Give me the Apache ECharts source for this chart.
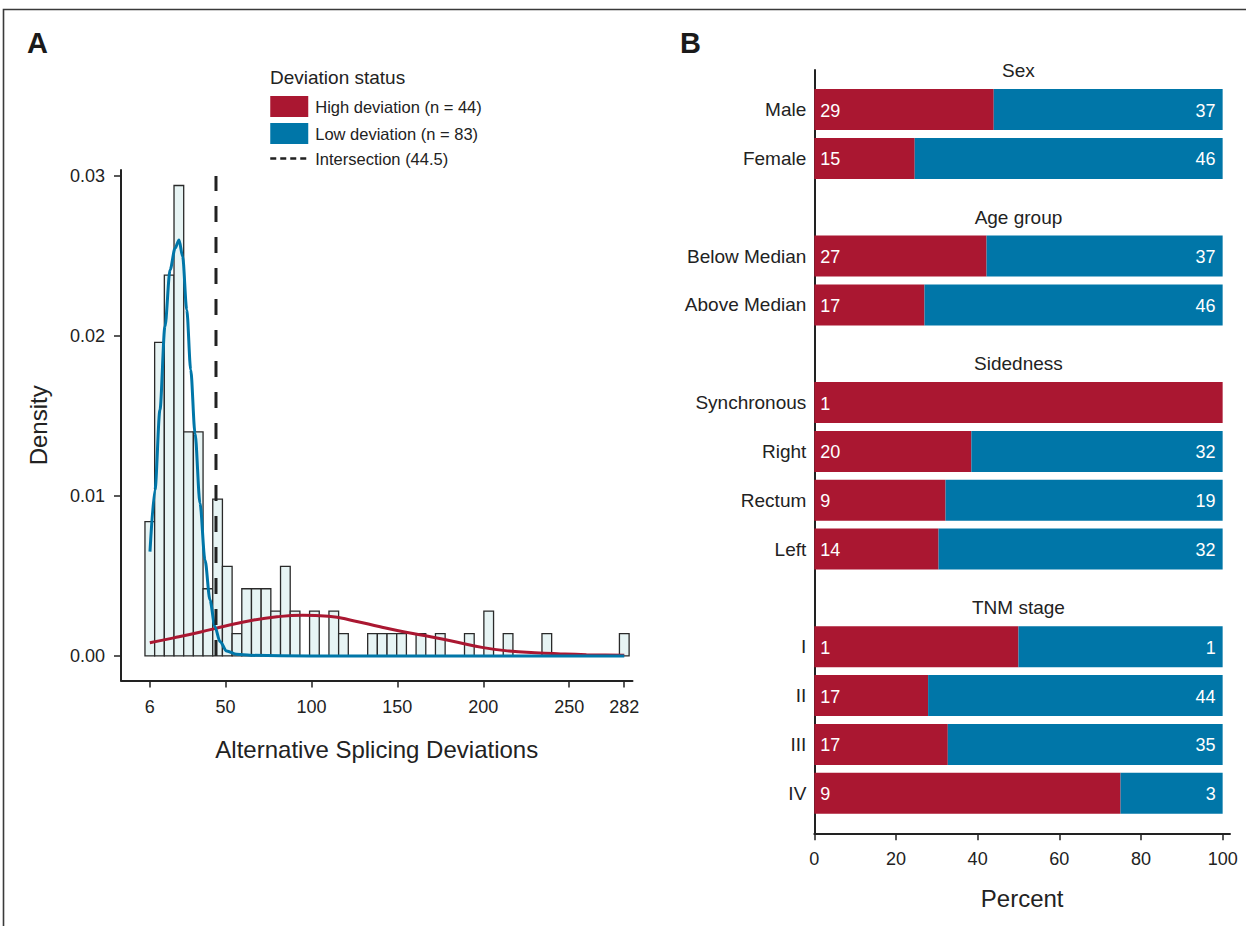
<!DOCTYPE html>
<html>
<head>
<meta charset="utf-8">
<script src="https://cdn.jsdelivr.net/npm/echarts@6/dist/echarts.min.js"></script>
<style>
html,body{margin:0;padding:0;background:#fff;}
#c{width:1246px;height:926px;}
</style>
</head>
<body>
<div id="c"></div>
<script>
// ---------------- Panel A data ----------------
const binStart = 3.18;      // left edge of first bin
const binWidth = 5.633;     // bin width
const histDensity = [
  0.0084,0.0196,0.0238,0.0294,0.0140,0.0140,0.0042,0.0098,0.0056,0.0014,
  0.0042,0.0042,0.0042,0.0028,0.0056,0.0028,0,0.0028,0,0.0028,
  0.0014,0,0,0.0014,0.0014,0.0014,0.0014,0,0.0014,0,
  0.0014,0,0,0.0014,0,0.0028,0,0.0014,0,0,
  0,0.0014,0,0,0,0,0,0,0,0.0014
];
const lowCurve = [
  [6.1,0.00652],[9.0,0.01038],[11.9,0.01538],[14.8,0.02058],[17.8,0.02413],
  [20.7,0.02548],[23.0,0.0260],[25.1,0.02496],[27.5,0.02163],[29.8,0.01788],
  [32.3,0.01392],[35.2,0.00954],[38.1,0.0060],[41.0,0.0035],[43.9,0.00183],
  [46.8,0.0009],[50.7,0.00031],[56.5,0.0001],[64.3,0.00004],[100,0],[200,0],[282,0]
];
const highCurve = [
  [6,0.00083],[20,0.00113],[35,0.00148],[50,0.00187],[65,0.00222],[80,0.00245],
  [95,0.00254],[110,0.00248],[125,0.00219],[140,0.00182],[155,0.00148],[170,0.00118],
  [185,0.00086],[200,0.00052],[215,0.00031],[230,0.00020],[245,0.00013],[260,0.00008],
  [282,0.00004]
];
const intersection = 44.5;
const xTickValues = [6,50,100,150,200,250,282];
const yTickValues = [0,0.01,0.02,0.03];
const highName = 'High deviation (n = 44)';
const lowName = 'Low deviation (n = 83)';
const interName = 'Intersection (44.5)';

// ---------------- Panel B data ----------------
const groupNames = ['Sex','Age group','Sidedness','TNM stage'];
const groupSizes = [2,2,4,4];
const rowNames = ['Male','Female','Below Median','Above Median','Synchronous','Right','Rectum','Left','I','II','III','IV'];
const highCounts = [29,15,27,17,1,20,9,14,1,17,17,9];
const lowCounts  = [37,46,37,46,0,32,19,32,1,44,35,3];
const pctTicks = [0,20,40,60,80,100];

// ---------------- build ----------------
const RED = '#AA1731', BLUE = '#0076A8', INK = '#222222';
const FONT = "'Liberation Sans', Arial, Helvetica, sans-serif";

const histData = histDensity.map((d,i)=>[binStart+i*binWidth, binStart+(i+1)*binWidth, d]).filter(r=>r[2]>0);

// slot layout: each group header sits in the slot above its rows
const headerSlots = [], rowSlots = [];
let s = -1;
groupSizes.forEach((n)=>{
  headerSlots.push(s); s++;
  for(let k=0;k<n;k++){ rowSlots.push(s); s++; }
});
const slotName = {};
rowSlots.forEach((sl,i)=>{ slotName[sl] = rowNames[i]; });
const highBars = rowNames.map((n,i)=>{ const t=highCounts[i]+lowCounts[i]; return [rowSlots[i], 0, 100*highCounts[i]/t, highCounts[i]]; });
const lowBars = rowNames.map((n,i)=>{ const t=highCounts[i]+lowCounts[i]; return [rowSlots[i], 100*highCounts[i]/t, 100, lowCounts[i]]; });
const headerData = groupNames.map((g,i)=>[50, headerSlots[i], g]);

function barRenderer(color, side){
  return function(params, api){
    const slot = api.value(0), x0 = api.value(1), x1 = api.value(2), cnt = api.value(3);
    const p0 = api.coord([x0, slot]), p1 = api.coord([x1, slot]);
    const h = Math.abs(api.size([0,1])[1]) * 0.84;
    const children = [{type:'rect', shape:{x:p0[0], y:p0[1]-h/2, width:p1[0]-p0[0], height:h}, style:{fill:color}}];
    if (cnt > 0) {
      children.push({type:'text', style:{
        text: String(cnt), x: side==='left' ? p0[0]+6 : p1[0]-7, y: p0[1]+1,
        align: side==='left' ? 'left' : 'right', verticalAlign:'middle',
        fill:'#ffffff', fontSize:18, fontFamily:FONT
      }});
    }
    return {type:'group', children};
  };
}

const axisLineStyle = {show:true, onZero:false, lineStyle:{color:INK, width:2}};

const chart = echarts.init(document.getElementById('c'), null, {renderer:'svg'});
chart.setOption({
  animation:false,
  textStyle:{fontFamily:FONT, color:INK},
  title:[
    {text:'A', left:27, top:28, padding:0, textStyle:{fontSize:29, fontWeight:'bold', color:'#1a1a1a', fontFamily:FONT}},
    {text:'B', left:680, top:28, padding:0, textStyle:{fontSize:29, fontWeight:'bold', color:'#1a1a1a', fontFamily:FONT}},
    {text:'Deviation status', left:270, top:68, padding:0, textStyle:{fontSize:19, fontWeight:'normal', color:INK, fontFamily:FONT}}
  ],
  legend:{
    orient:'vertical', left:269, top:96, padding:0, itemWidth:38, itemHeight:21, itemGap:6,
    textStyle:{fontSize:16.5, color:INK, fontFamily:FONT, padding:[0,0,0,2]},
    selectedMode:false,
    data:[
      {name:highName, icon:'rect', itemStyle:{color:RED}},
      {name:lowName, icon:'rect', itemStyle:{color:BLUE}},
      {name:interName, itemStyle:{color:'rgba(0,0,0,0)', borderWidth:0, opacity:0}, lineStyle:{type:[6,4], width:2.5, color:INK}}
    ]
  },
  graphic:[
    {type:'polyline', shape:{points:[[3.5,926],[3.5,9.5],[1246,9.5]]}, style:{stroke:'#3a3a3a', lineWidth:1.6, fill:null}}
  ],
  grid:[
    {left:121, top:170, width:511.5, height:510.6},
    {left:814.3, top:70, width:415.7, height:763.3}
  ],
  xAxis:[
    {gridIndex:0, type:'value', min:-10.76, max:286.8,
     name:'Alternative Splicing Deviations', nameLocation:'middle', nameGap:57,
     nameTextStyle:{fontSize:24, color:INK},
     axisLine:axisLineStyle,
     axisTick:{show:true, length:7, lineStyle:{color:INK, width:1.5}, customValues:xTickValues},
     axisLabel:{fontSize:18, color:INK, margin:17, customValues:xTickValues},
     splitLine:{show:false}},
    {gridIndex:1, type:'value', min:0, max:101.8,
     name:'Percent', nameLocation:'middle', nameGap:53,
     nameTextStyle:{fontSize:24, color:INK},
     axisLine:axisLineStyle,
     axisTick:{show:true, length:7, lineStyle:{color:INK, width:1.5}, customValues:pctTicks},
     axisLabel:{fontSize:18, color:INK, margin:17, customValues:pctTicks},
     splitLine:{show:false}}
  ],
  yAxis:[
    {gridIndex:0, type:'value', min:-0.00154, max:0.03037,
     name:'Density', nameLocation:'middle', nameGap:71,
     nameTextStyle:{fontSize:24, color:INK},
     axisLine:axisLineStyle,
     axisTick:{show:true, length:7, lineStyle:{color:INK, width:1.5}, customValues:yTickValues},
     axisLabel:{fontSize:18, color:INK, margin:16, customValues:yTickValues, formatter:v=>v.toFixed(2)},
     splitLine:{show:false}},
    {gridIndex:1, type:'value', inverse:true, min:-0.81, max:14.82,
     axisLine:axisLineStyle,
     axisTick:{show:false},
     axisLabel:{fontSize:19, color:INK, margin:8, customValues:rowSlots, formatter:v=>slotName[Math.round(v)]||''},
     splitLine:{show:false}}
  ],
  series:[
    {type:'custom', name:'hist', xAxisIndex:0, yAxisIndex:0, data:histData, encode:{x:[0,1], y:2},
     renderItem:function(params, api){
       const a = api.coord([api.value(0), api.value(2)]);
       const b = api.coord([api.value(1), 0]);
       return {type:'rect', shape:{x:a[0], y:a[1], width:b[0]-a[0], height:b[1]-a[1]},
               style:{fill:'#E7F4F4', stroke:'#2a2a2a', lineWidth:1.3}};
     }, z:1},
    {type:'line', name:highName, xAxisIndex:0, yAxisIndex:0, data:highCurve, smooth:0.5,
     symbol:'none', lineStyle:{color:RED, width:3}, itemStyle:{color:RED}, z:3},
    {type:'line', name:lowName, xAxisIndex:0, yAxisIndex:0, data:lowCurve, smooth:0.3, smoothMonotone:'x',
     symbol:'none', lineStyle:{color:BLUE, width:3}, itemStyle:{color:BLUE}, z:4},
    {type:'line', name:interName, xAxisIndex:0, yAxisIndex:0, data:[[intersection,0],[intersection,0.03]],
     symbol:'none', lineStyle:{color:INK, width:3, type:[16,15]}, itemStyle:{color:INK}, z:5},
    {type:'custom', name:'highBars', xAxisIndex:1, yAxisIndex:1, data:highBars, encode:{x:[1,2], y:0},
     renderItem:barRenderer(RED,'left')},
    {type:'custom', name:'lowBars', xAxisIndex:1, yAxisIndex:1, data:lowBars, encode:{x:[1,2], y:0},
     renderItem:barRenderer(BLUE,'right')},
    {type:'custom', name:'headers', xAxisIndex:1, yAxisIndex:1, data:headerData, encode:{x:0, y:1},
     renderItem:function(params, api){
       const p = api.coord([api.value(0), api.value(1)]);
       return {type:'text', style:{text:headerData[params.dataIndex][2], x:p[0], y:p[1]+10,
         align:'center', verticalAlign:'middle', fontSize:19, fontFamily:FONT, fill:INK}};
     }}
  ]
});
</script>
</body>
</html>
